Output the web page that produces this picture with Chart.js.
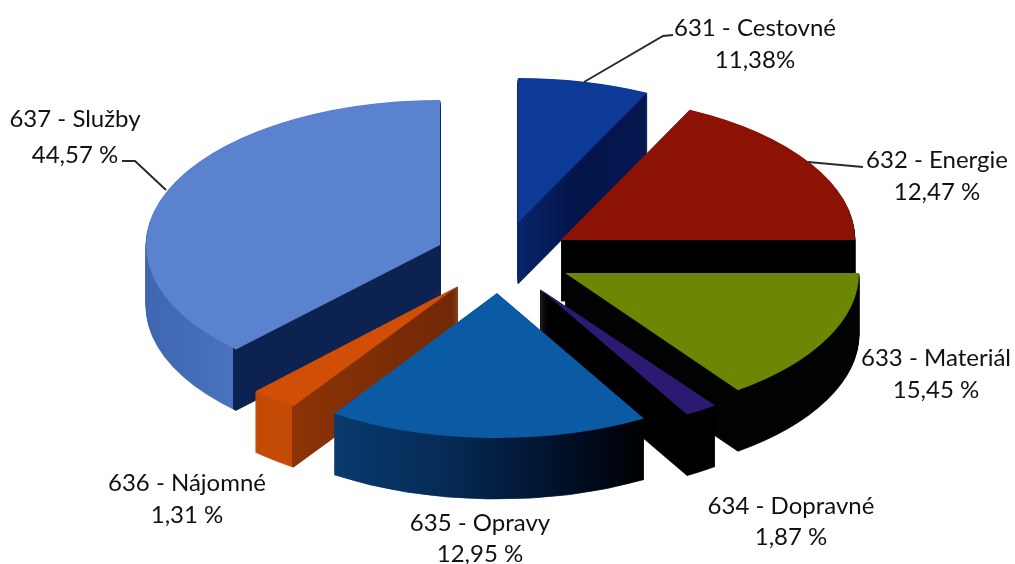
<!DOCTYPE html>
<html lang="sk">
<head>
    <meta charset="UTF-8">
    <title>Štruktúra výdavkov</title>
    <script src="https://cdn.jsdelivr.net/npm/chart.js"></script>
    <style>
        body { margin: 0; background: #ffffff; }
        canvas { display: block; }
    </style>
</head>
<body>
    <canvas id="pie" width="1015" height="564"></canvas>

    <script>
        // values as printed on the chart
        const categories = ['631 - Cestovné', '632 - Energie', '633 - Materiál', '634 - Dopravné', '635 - Opravy', '636 - Nájomné', '637 - Služby'];
        const shares = [11.38, 12.47, 15.45, 1.87, 12.95, 1.31, 44.57];
        const shareLabels = ['11,38%', '12,47 %', '15,45 %', '1,87 %', '12,95 %', '1,31 %', '44,57 %'];
        const topColors = ['#0c3a96', '#8c1206', '#6c8704', '#2c1a72', '#0a5ba3', '#d04e05', '#5a82cf'];

        // look of the 3D view, separate from the data
        const radiusX = 294;
        const radiusY = 145;
        const depth = 61;
        const drawOrder = [0, 6, 1, 2, 5, 3, 4];
        // where each exploded slice has its tip
        const tips = [[518, 223], [561, 240], [565, 273], [540, 289], [497, 293], [458, 286], [440, 245]];
        // the scanned chart has a strong perspective, so slices turn and widen a bit on screen
        const turnDeg = [0, -15, 4.1, 2, 1.8, 19.2, 24.4];
        const spread = [0.635, 1.426, 0.971, 0.966, 1.364, 2.01, 0.848];
        // wall colours, left to right across the width of the slice
        const wallStops = [
            [[0.5, '#08246c'], [0.6, '#031448'], [0.72, '#04174f']],
            [[0, '#000000'], [1, '#000000']],
            [[0, '#020202'], [1, '#020202']],
            [[0, '#000000'], [1, '#000000']],
            [[0.22, '#0a3a6e'], [0.42, '#052a55'], [0.67, '#00081a'], [0.75, '#000000']],
            [[0.153, '#c44b06'], [0.218, '#c44b06'], [0.218, '#8c3305'], [0.5, '#702806']],
            [[0, '#3f66b0'], [0.148, '#4a72bd'], [0.148, '#0c2352'], [0.5, '#0c2352']]
        ];

        const labelSpots = [[755, 28, 60], [937, 160, 192], [936, 358, 390], [791, 506, 537], [480, 523, 554], [187, 483, 515], [75, 119, 155]];
        const leaders = [
            [[584, 82], [663, 36], [673, 35]],
            [[808, 162], [863, 167]],
            [[122, 161], [135, 161], [166, 190]]
        ];

        function drawSlice(ctx, arc, i) {
            const start = arc.startAngle + turnDeg[i] * Math.PI / 180;
            const sweep = arc.circumference * spread[i];
            const wall = ctx.createLinearGradient(-radiusX, 0, radiusX, 0);
            wallStops[i].forEach(s => wall.addColorStop(s[0], s[1]));

            const view = Object.create(arc);
            view.x = 0;
            view.y = 0;
            view.startAngle = start;
            view.endAngle = start + sweep;
            view.circumference = sweep;
            view.innerRadius = 0;
            view.outerRadius = radiusX;

            for (let k = depth; k >= 0; k--) {
                ctx.save();
                ctx.translate(tips[i][0], tips[i][1] + k);
                ctx.scale(1, radiusY / radiusX);
                // thin border on the wall layers, or the narrow tips come out fuzzy
                view.options = Object.assign({}, arc.options, {
                    backgroundColor: k === 0 ? arc.options.backgroundColor : wall,
                    borderColor: wall,
                    borderWidth: k === 0 ? 0 : 1
                });
                view.draw(ctx);
                ctx.restore();
            }
        }

        const slices3d = {
            id: 'slices3d',
            beforeDatasetsDraw(chart) {
                const arcs = chart.getDatasetMeta(0).data;
                drawOrder.forEach(i => drawSlice(chart.ctx, arcs[i], i));
                return false;
            },
            afterDraw(chart) {
                const ctx = chart.ctx;
                ctx.save();
                ctx.strokeStyle = '#2b2b2b';
                ctx.lineWidth = 2;
                leaders.forEach(line => {
                    ctx.beginPath();
                    line.forEach((p, n) => n ? ctx.lineTo(p[0], p[1]) : ctx.moveTo(p[0], p[1]));
                    ctx.stroke();
                });
                ctx.fillStyle = '#111111';
                ctx.font = '24px Lato';
                ctx.textAlign = 'center';
                ctx.textBaseline = 'middle';
                categories.forEach((name, i) => {
                    ctx.fillText(name, labelSpots[i][0], labelSpots[i][1]);
                    ctx.fillText(shareLabels[i], labelSpots[i][0], labelSpots[i][2]);
                });
                ctx.restore();
            }
        };

        new Chart(document.getElementById('pie').getContext('2d'), {
            type: 'pie',
            data: {
                labels: categories,
                datasets: [{ data: shares, backgroundColor: topColors, borderWidth: 0 }]
            },
            options: {
                responsive: false,
                animation: false,
                plugins: { legend: { display: false }, tooltip: { enabled: false } }
            },
            plugins: [slices3d]
        });
    </script>
</body>
</html>
